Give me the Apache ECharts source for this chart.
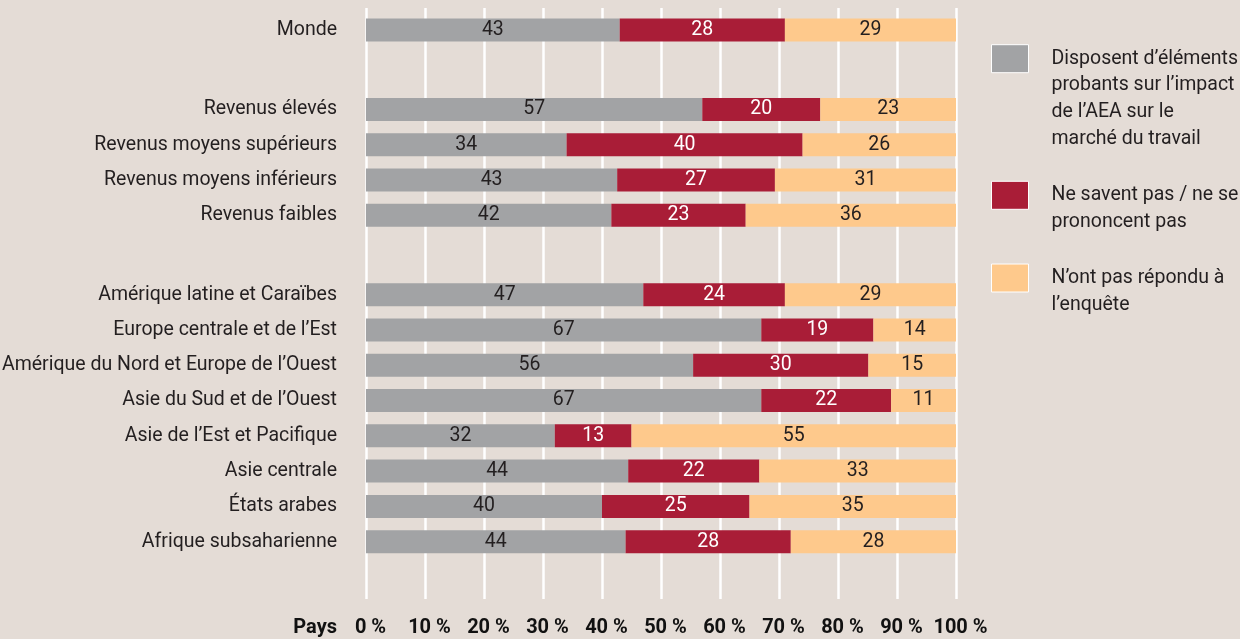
<!DOCTYPE html>
<html>
<head>
<meta charset="utf-8">
<script src="https://cdn.jsdelivr.net/npm/echarts@6/dist/echarts.min.js"></script>
<style>
html,body{margin:0;padding:0;background:#e4dcd6;}
#chart{width:1240px;height:639px;}
</style>
</head>
<body>
<div id="chart"></div>
<script>
// ---- data ----
const categories = [
  'Monde',
  'Revenus élevés',
  'Revenus moyens supérieurs',
  'Revenus moyens inférieurs',
  'Revenus faibles',
  'Amérique latine et Caraïbes',
  'Europe centrale et de l’Est',
  'Amérique du Nord et Europe de l’Ouest',
  'Asie du Sud et de l’Ouest',
  'Asie de l’Est et Pacifique',
  'Asie centrale',
  'États arabes',
  'Afrique subsaharienne'
];
const groupStarts = [1, 5]; // indices where a new group begins
const evidence  = [43, 57, 34, 43, 42, 47, 67, 56, 67, 32, 44, 40, 44];
const dontKnow  = [28, 20, 40, 27, 23, 24, 19, 30, 22, 13, 22, 25, 28];
const noAnswer  = [29, 23, 26, 31, 36, 29, 14, 15, 11, 55, 33, 35, 28];
const seriesNames = [
  'Disposent d’éléments\nprobants sur l’impact\nde l’AEA sur le\nmarché du travail',
  'Ne savent pas / ne se\nprononcent pas',
  'N’ont pas répondu à\nl’enquête'
];
const xTicks = [0, 10, 20, 30, 40, 50, 60, 70, 80, 90, 100];
const xAxisTitle = 'Pays';

// ---- layout of category slots (quarter-row bands) ----
const FONT = "Roboto, 'DejaVu Sans Condensed', sans-serif";
const FS = 19.5;
const axisCats = [];
const rowIndex = []; // maps slot -> data row or -1
let gapId = 0;
function pushGap(n){ for(let i=0;i<n;i++){ axisCats.push('_gap'+(gapId++)); rowIndex.push(-1);} }
pushGap(2);
categories.forEach((c, i) => {
  if (i > 0) pushGap(groupStarts.includes(i) ? 8 : 3);
  axisCats.push(c); rowIndex.push(i);
});
pushGap(6);

const raw = [evidence, dontKnow, noAnswer];
function buildData(k){
  return rowIndex.map(r => {
    if (r < 0) return '-';
    const tot = evidence[r] + dontKnow[r] + noAnswer[r];
    return { value: raw[k][r] / tot * 100, raw: raw[k][r] };
  });
}
const colors = ['#a2a3a5', '#a91d37', '#fec98c'];
const labelColors = ['#231f20', '#ffffff', '#231f20'];

const chart = echarts.init(document.getElementById('chart'), null, {renderer:'canvas'});

const series = seriesNames.map((n, k) => ({
  name: n,
  type: 'bar',
  stack: 'total',
  barWidth: 23,
  data: buildData(k),
  itemStyle: { color: colors[k] },
  label: {
    show: true, position: 'inside',
    fontFamily: FONT, fontSize: FS, color: labelColors[k],
    formatter: p => p.data && p.data.raw != null ? String(p.data.raw) : ''
  },
  emphasis: { disabled: true },
  animation: false
}));

// legend: blank leading lines so that the first text line sits level with the square
const LH = 26.7;
const iconTops = [46.7, 183.3, 266];
const legends = seriesNames.map((n, k) => {
  const lines = n.split('\n');
  const blanks = lines.length - 1;
  const totalLines = lines.length + blanks;
  const textTop = 14 - totalLines * LH / 2;   // relative to icon top
  return {
    data: [n],
    left: 991,
    top: iconTops[k] + textTop - 2,
    orient: 'vertical',
    padding: 0,
    itemWidth: 37,
    itemHeight: 28,
    icon: 'rect',
    selectedMode: false,
    itemStyle: { borderColor: '#ffffff', borderWidth: 1 },
    formatter: name => '\n'.repeat(blanks) + name.split('\n').map(l => '{t|' + l + '}').join('\n'),
    textStyle: {
      fontFamily: FONT, fontSize: FS, lineHeight: LH, color: '#231f20',
      rich: { t: { fontFamily: FONT, fontSize: FS, lineHeight: LH, color: '#231f20', padding: [0, 0, 0, 18] } }
    }
  };
});

chart.setOption({
  backgroundColor: '#e4dcd6',
  animation: false,
  textStyle: { fontFamily: FONT },
  grid: { left: 366, right: 284, top: 8, height: 591, containLabel: false, outerBoundsMode: 'none' },
  legend: legends,
  xAxis: {
    type: 'value', min: 0, max: 100, interval: 10,
    position: 'bottom',
    name: xAxisTitle, nameLocation: 'start', nameGap: 29,
    nameTextStyle: { fontFamily: FONT, fontSize: 20, fontWeight: 'bold', color: '#111', verticalAlign: 'top', lineHeight: 58 },
    axisLine: { show: false }, axisTick: { show: false },
    splitLine: { show: true, lineStyle: { color: '#ffffff', width: 2.5 } },
    axisLabel: {
      fontFamily: FONT, fontSize: 20, fontWeight: 'bold', color: '#111', margin: 19,
      formatter: v => xTicks.includes(v) ? '{p|' + v + ' %}' : '',
      rich: { p: { fontFamily: FONT, fontSize: 20, fontWeight: 'bold', color: '#111', padding: [0, 0, 0, 9] } }
    }
  },
  yAxis: {
    type: 'category', inverse: true, data: axisCats,
    axisLine: { show: false }, axisTick: { show: false }, splitLine: { show: false },
    axisLabel: {
      interval: 0, margin: 29, fontFamily: FONT, fontSize: FS, color: '#231f20',
      formatter: v => v.startsWith('_gap') ? '' : v
    }
  },
  series: series
});
</script>
</body>
</html>
